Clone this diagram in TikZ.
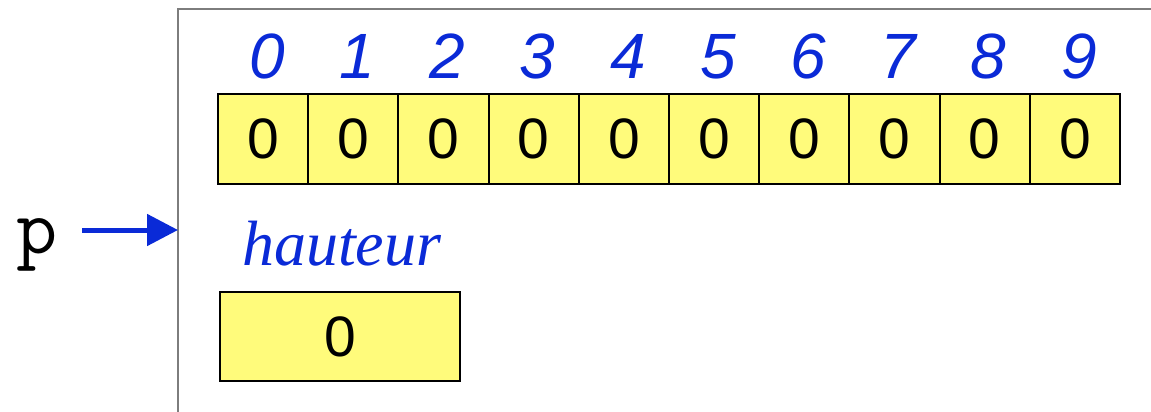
\documentclass[tikz,border=0pt]{standalone}
\usepackage{fontspec}
\setmainfont{Liberation Sans}
\newfontfamily\seriffont{Liberation Serif}
\usetikzlibrary{arrows.meta}
\definecolor{idxblue}{RGB}{10,42,215}
\definecolor{cellyellow}{RGB}{255,251,123}
\definecolor{framegray}{RGB}{125,125,125}
\tikzset{
  cell/.style={draw=black, fill=cellyellow, line width=2pt, minimum width=90.2pt, minimum height=90pt, inner sep=0pt, font=\fontsize{57pt}{60pt}\selectfont},
  idx/.style={text=idxblue, inner sep=0pt, font=\fontsize{64pt}{66pt}\selectfont\itshape},
  ptr/.style={draw=idxblue, line width=5pt, -{Triangle[length=31pt,width=31pt]}},
}
\begin{document}
\begin{tikzpicture}[x=1pt,y=-1pt]
\useasboundingbox (0,0) rectangle (1151,412);
% frame (top and left edges)
\draw[framegray, line width=2pt] (178,412) -- (178,9.5) -- (1151,9.5);
% array cells
\foreach \i in {0,...,9} {
  \node[cell] (c\i) at ({263.1+90.2*\i},139) {0};
  \node[idx, anchor=base] (i\i) at ({267+90.2*\i},78) {\i};
}
% pointer p
\node[inner sep=0pt, anchor=base, font=\fontsize{80pt}{82pt}\selectfont\ttfamily] (p) at (37,253) {p};
\coordinate (pstart) at (82,230);
\coordinate (pend) at (178,230);
\draw[ptr] (pstart) -- (pend);
% hauteur
\node[inner sep=0pt, anchor=base west, text=idxblue, font=\fontsize{64pt}{66pt}\selectfont\seriffont\itshape] (h) at (242,265) {hauteur};
\node[cell, minimum width=240pt, minimum height=89pt] (hv) at (340,336.5) {0};
\end{tikzpicture}
\end{document}
